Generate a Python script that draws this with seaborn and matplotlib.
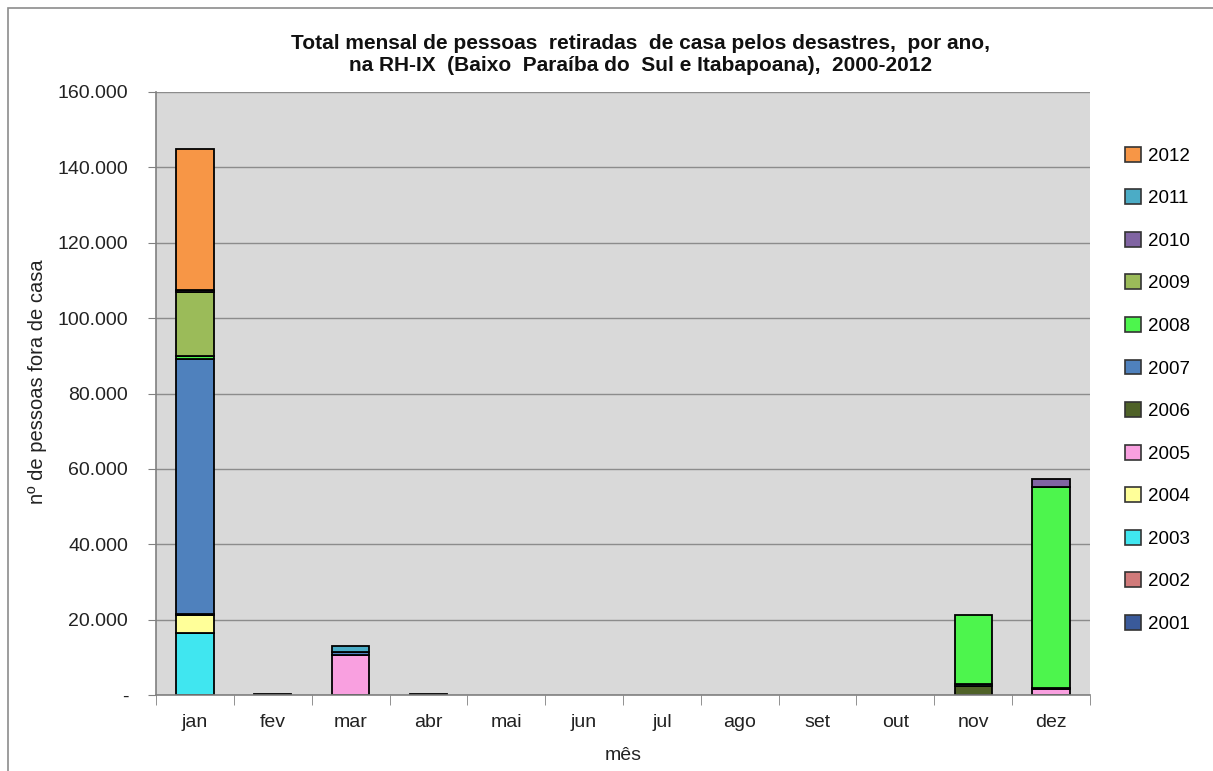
import seaborn as sns
import matplotlib.pyplot as plt
import pandas as pd
from matplotlib.patches import Patch, Rectangle
from matplotlib.ticker import FuncFormatter

months = ['jan', 'fev', 'mar', 'abr', 'mai', 'jun', 'jul', 'ago', 'set', 'out', 'nov', 'dez']
years = ['2012', '2011', '2010', '2009', '2008', '2007', '2006', '2005', '2004', '2003', '2002', '2001']

# valores (pessoas retiradas de casa), mes a mes
v2001 = [0, 0, 0, 0, 0, 0, 0, 0, 0, 0, 0, 0]
v2002 = [0, 0, 0, 0, 0, 0, 0, 0, 0, 0, 0, 0]
v2003 = [16400, 0, 0, 0, 0, 0, 0, 0, 0, 0, 0, 0]
v2004 = [4800, 0, 0, 0, 0, 0, 0, 0, 0, 0, 0, 0]
v2005 = [0, 0, 10600, 0, 0, 0, 0, 0, 0, 0, 0, 1500]
v2006 = [400, 300, 0, 300, 0, 0, 0, 0, 0, 0, 2500, 400]
v2007 = [67600, 0, 700, 0, 0, 0, 0, 0, 0, 0, 400, 0]
v2008 = [800, 0, 0, 0, 0, 0, 0, 0, 0, 0, 18300, 53300]
v2009 = [17000, 0, 0, 0, 0, 0, 0, 0, 0, 0, 0, 0]
v2010 = [500, 0, 0, 0, 0, 0, 0, 0, 0, 0, 0, 2200]
v2011 = [0, 0, 1600, 0, 0, 0, 0, 0, 0, 0, 0, 0]
v2012 = [37500, 0, 0, 0, 0, 0, 0, 0, 0, 0, 0, 0]

colors = {
    '2012': '#F79646', '2011': '#4BACC6', '2010': '#8064A2', '2009': '#9BBB59',
    '2008': '#4DF54D', '2007': '#4F81BD', '2006': '#4F6228', '2005': '#F9A0E0',
    '2004': '#FFFF99', '2003': '#40E6F0', '2002': '#D07A7A', '2001': '#3A5A9A',
}

series = {'2001': v2001, '2002': v2002, '2003': v2003, '2004': v2004, '2005': v2005,
          '2006': v2006, '2007': v2007, '2008': v2008, '2009': v2009, '2010': v2010,
          '2011': v2011, '2012': v2012}

rows = []
for y, vals in series.items():
    for m, v in zip(months, vals):
        rows.append((m, y, v))
df = pd.DataFrame(rows, columns=['mes', 'ano', 'pessoas'])
df['mes'] = pd.Categorical(df['mes'], categories=months, ordered=True)

plt.rcParams['font.family'] = ['Liberation Sans', 'DejaVu Sans']
fig = plt.figure(figsize=(12.13, 7.71), dpi=100)
fig.patches.append(Rectangle((8 / 1213, -0.1), 1.2, (771 - 8) / 771 + 0.1,
                             transform=fig.transFigure, fill=False,
                             edgecolor='#8C8C8C', linewidth=1.2))
ax = fig.add_axes([156 / 1213, 76 / 771, 934 / 1213, 603 / 771])
ax.set_facecolor('#D9D9D9')
ax.set_axisbelow(True)

sns.histplot(data=df, x='mes', weights='pessoas', hue='ano', hue_order=years,
             multiple='stack', discrete=True, shrink=0.48, palette=colors,
             edgecolor='black', linewidth=1.3, alpha=1, legend=False, ax=ax)

# esconder segmentos vazios
for p in ax.patches:
    if p.get_height() == 0:
        p.set_visible(False)

ax.set_ylim(0, 160000)
ax.set_xlim(-0.5, 11.5)
ax.set_yticks(range(0, 160001, 20000))
ax.yaxis.set_major_formatter(FuncFormatter(
    lambda v, pos: '-' if v == 0 else f'{int(v):,}'.replace(',', '.')))
ax.grid(axis='y', color='#8C8C8C', linewidth=1)
ax.grid(axis='x', visible=False)

ax.set_xticks(range(12))
ax.set_xticklabels(months)
ax.set_xticks([i - 0.5 for i in range(13)], minor=True)
ax.tick_params(axis='x', which='major', length=0, labelsize=14, pad=14, labelcolor='#222222')
ax.tick_params(axis='x', which='minor', length=7, color='#808080')
ax.tick_params(axis='y', length=6, color='#808080', labelsize=14, pad=14, labelcolor='#222222')

for s in ['top', 'right']:
    ax.spines[s].set_visible(False)
for s in ['left', 'bottom']:
    ax.spines[s].set_color('#808080')
    ax.spines[s].set_linewidth(1.2)

ax.set_xlabel('mês', fontsize=14, color='#222222')
ax.set_ylabel('nº de pessoas fora de casa', fontsize=14.5, color='#222222')
ax.xaxis.set_label_coords(0.5, -0.087)
ax.yaxis.set_label_coords(-0.117, 0.52)

fig.text(0.528, 0.929, 'Total mensal de pessoas  retiradas  de casa pelos desastres,  por ano,\n'
         'na RH-IX  (Baixo  Paraíba do  Sul e Itabapoana),  2000-2012',
         ha='center', va='center', fontsize=15, fontweight='bold', linespacing=1.2,
         color='#111111')

handles = [Patch(facecolor=colors[y], edgecolor='#333333', linewidth=1.2) for y in years]
fig.legend(handles, years, loc='upper left', bbox_to_anchor=(1108 / 1213, 1 - 130 / 771),
           frameon=False, fontsize=13.5, handlelength=0.85, handleheight=0.85,
           handletextpad=0.4, labelspacing=1.31)

fig.savefig('out.png', dpi=100)
